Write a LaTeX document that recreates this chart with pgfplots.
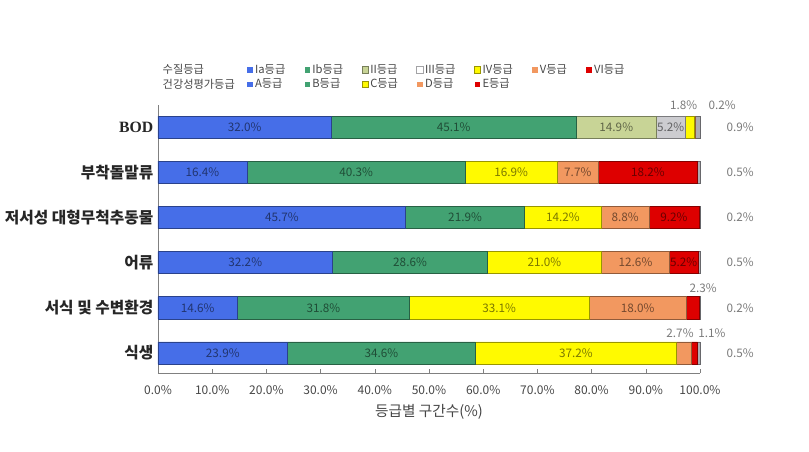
\documentclass[border=0pt]{standalone}
\usepackage{fontspec}
\setmainfont{Noto Sans CJK KR}
\newfontfamily\bodfont{Liberation Serif}
\usepackage{pgfplots}
\usepackage{pgfplotstable}
\pgfplotsset{compat=1.18}
\definecolor{cBlue}{RGB}{70,110,232}
\definecolor{cGreen}{RGB}{66,162,114}
\definecolor{cOlive}{RGB}{200,212,150}
\definecolor{cGray}{RGB}{204,204,208}
\definecolor{cYellow}{RGB}{255,250,0}
\definecolor{cOrange}{RGB}{242,152,96}
\definecolor{cRed}{RGB}{222,0,0}
\definecolor{cEnd}{RGB}{172,172,178}
\definecolor{txt}{RGB}{70,70,70}
% columns: y = row (6 BOD ... 1 식생), val = share in %, lab = label, dx/dy = label offset in pt
\pgfplotstableread{
y val lab dx dy
6 32.0 32.0\% 0 0
5 16.4 16.4\% 0 0
4 45.7 45.7\% 0 0
3 32.2 32.2\% 0 0
2 14.6 14.6\% 0 0
1 23.9 23.9\% 0 0
}\tA
\pgfplotstableread{
y val lab dx dy
6 45.1 45.1\% 0 0
5 40.3 40.3\% 0 0
4 21.9 21.9\% 0 0
3 28.6 28.6\% 0 0
2 31.8 31.8\% 0 0
1 34.6 34.6\% 0 0
}\tB
\pgfplotstableread{
y val lab dx dy
6 14.9 14.9\% 0 0
5 0 {} 0 0
4 0 {} 0 0
3 0 {} 0 0
2 0 {} 0 0
1 0 {} 0 0
}\tII
\pgfplotstableread{
y val lab dx dy
6 5.2 5.2\% 0 0
5 0 {} 0 0
4 0 {} 0 0
3 0 {} 0 0
2 0 {} 0 0
1 0 {} 0 0
}\tIII
\pgfplotstableread{
y val lab dx dy
6 1.8 1.8\% -4.5 16.6
5 16.9 16.9\% 0 0
4 14.2 14.2\% 0 0
3 21.0 21.0\% 0 0
2 33.1 33.1\% 0 0
1 37.2 37.2\% 0 0
}\tC
\pgfplotstableread{
y val lab dx dy
6 0.2 0.2\% 20.3 16.6
5 7.7 7.7\% 0 0
4 8.8 8.8\% 0 0
3 12.6 12.6\% 0 0
2 18.0 18.0\% 0 0
1 2.7 2.7\% -3 14.9
}\tD
\pgfplotstableread{
y val lab dx dy
6 0 {} 0 0
5 18.2 18.2\% 0 0
4 9.2 9.2\% 0 0
3 5.2 5.2\% 0 0
2 2.3 2.3\% 7.9 14.9
1 1.1 1.1\% 13.2 14.9
}\tE
\pgfplotstableread{
y val lab dx dy
6 0.8 0.9\% 31.7 0
5 0.5 0.5\% 31.1 0
4 0.2 0.2\% 30.5 0
3 0.4 0.5\% 30.9 0
2 0.2 0.2\% 30.5 0
1 0.5 0.5\% 31.1 0
}\tEnd
\pgfplotsset{
  sq/.style={legend image code/.code={\draw[##1] (0pt,-2.4pt) rectangle (4.8pt,2.4pt);}},
  seg/.style={fill=#1, draw=#1!60!black, line width=0.4pt},
}
\begin{document}
\begin{tikzpicture}
\begin{axis}[name=ax, scale only axis, width=406.5pt, height=201pt,
  xmin=0, xmax=100, ymin=0.556, ymax=6.49, clip=false,
  xbar stacked, bar width=0.49,
  axis lines*=left,
  axis line style={black!50, line width=0.5pt},
  xtick={0,10,...,100},
  xticklabel={\pgfmathprintnumber[fixed,fixed zerofill,precision=1]{\tick}\%},
  /pgf/number format/assume math mode=true,
  tick align=inside, major tick length=3pt,
  tick style={black!50, line width=0.4pt},
  ytick={1,2,3,4,5,6},
  yticklabels={\textbf{식생},\textbf{서식 및 수변환경},\textbf{어류},\textbf{저서성 대형무척추동물},\textbf{부착돌말류},{\bodfont\bfseries BOD}},
  y tick style={draw=none},
  extra y ticks={0.556,1.5,2.5,3.5,4.5,5.5,6.49},
  extra y tick labels={},
  extra y tick style={tick align=outside, major tick length=4pt, tick style={draw=black!50}},
  yticklabel style={font=\fontsize{11.8}{13}\selectfont, text=black!85},
  xticklabel style={font=\fontsize{9}{10}\selectfont, text=txt, yshift=-6pt},
  xlabel={등급별 구간수(\%)},
  xlabel style={font=\fontsize{11}{12}\selectfont, text=txt, yshift=0pt},
  nodes near coords, point meta=explicit symbolic,
  visualization depends on={\thisrow{dx} \as \dx},
  visualization depends on={\thisrow{dy} \as \dy},
  every node near coord/.append style={anchor=center, xshift=\dx pt, yshift=\dy pt,
    text=black, text opacity=0.52, font=\fontsize{8.8}{10}\selectfont},
  legend columns=8,
  legend cell align=left,
  legend style={draw=none, fill=none, at={(0.005,1.16)}, anchor=north west,
    font=\fontsize{8.4}{9}\selectfont, text=txt, inner sep=0pt, row sep=0pt,
    nodes={inner sep=1.3pt},
    /tikz/every even column/.append style={column sep=12.5pt}},
]
\addplot[seg=cBlue, forget plot] table[x=val, y=y, meta=lab] {\tA};
\addplot[seg=cGreen, forget plot] table[x=val, y=y, meta=lab] {\tB};
\addplot[seg=cOlive, forget plot] table[x=val, y=y, meta=lab] {\tII};
\addplot[seg=cGray, forget plot] table[x=val, y=y, meta=lab] {\tIII};
\addplot[seg=cYellow, forget plot] table[x=val, y=y, meta=lab] {\tC};
\addplot[seg=cOrange, forget plot] table[x=val, y=y, meta=lab] {\tD};
\addplot[seg=cRed, forget plot] table[x=val, y=y, meta=lab] {\tE};
\addplot[seg=cEnd, forget plot] table[x=val, y=y, meta=lab] {\tEnd};
% legend
\addlegendimage{empty legend}\addlegendentry{\makebox[49pt][l]{수질등급}}
\addlegendimage{sq, fill=cBlue, draw=white}\addlegendentry{Ia등급}
\addlegendimage{sq, fill=cGreen, draw=white}\addlegendentry{Ib등급}
\addlegendimage{sq, fill=cOlive, draw=cOlive!60!black}\addlegendentry{II등급}
\addlegendimage{sq, fill=white, draw=cGray!80!black}\addlegendentry{III등급}
\addlegendimage{sq, fill=cYellow, draw=cYellow!60!black}\addlegendentry{IV등급}
\addlegendimage{sq, fill=cOrange, draw=white}\addlegendentry{V등급}
\addlegendimage{sq, fill=cRed, draw=white}\addlegendentry{VI등급}
\addlegendimage{empty legend}\addlegendentry{\makebox[49pt][l]{건강성평가등급}}
\addlegendimage{sq, fill=cBlue, draw=white}\addlegendentry{A등급}
\addlegendimage{sq, fill=cGreen, draw=white}\addlegendentry{B등급}
\addlegendimage{sq, fill=cYellow, draw=cYellow!60!black}\addlegendentry{C등급}
\addlegendimage{sq, fill=cOrange, draw=white}\addlegendentry{D등급}
\addlegendimage{sq, fill=cRed, draw=white}\addlegendentry{E등급}
\end{axis}
\pgfresetboundingbox
\path ([xshift=-118.5pt,yshift=-58.5pt]ax.south west) rectangle ++(606.75pt,338.25pt);
\end{tikzpicture}
\end{document}
